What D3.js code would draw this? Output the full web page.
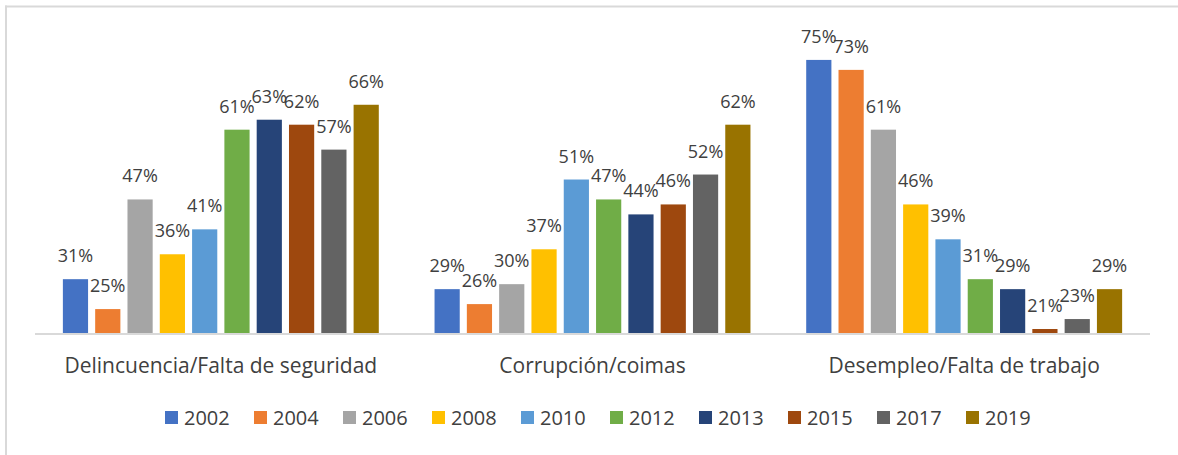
<!DOCTYPE html>
<html><head><meta charset="utf-8">
<script src="https://cdn.jsdelivr.net/npm/d3@7"></script>
<style>html,body{margin:0;padding:0;background:#fff;}svg{display:block;}</style>
</head><body>
<svg id="chart" width="1178" height="455"></svg>
<script>
const categories = ["Delincuencia/Falta de seguridad", "Corrupción/coimas", "Desempleo/Falta de trabajo"];
const years = ["2002","2004","2006","2008","2010","2012","2013","2015","2017","2019"];
const colors = ["#4472C4","#ED7D31","#A5A5A5","#FFC000","#5B9BD5","#70AD47","#264478","#9E480E","#636363","#997300"];
const v2002 = [31, 29, 75];
const v2004 = [25, 26, 73];
const v2006 = [47, 30, 61];
const v2008 = [36, 37, 46];
const v2010 = [41, 51, 39];
const v2012 = [61, 47, 31];
const v2013 = [63, 44, 29];
const v2015 = [62, 46, 21];
const v2017 = [57, 52, 23];
const v2019 = [66, 62, 29];
const seriesValues = [v2002, v2004, v2006, v2008, v2010, v2012, v2013, v2015, v2017, v2019];
const yDomain = [20, 80];

const svg = d3.select("#chart");
const font = "'Open Sans', 'Noto Sans', sans-serif";
const textColor = "#404040";

// frame
svg.append("line").attr("x1",5).attr("x2",1178).attr("y1",6.5).attr("y2",6.5).attr("stroke","#d9d9d9").attr("stroke-width",2);
svg.append("line").attr("x1",6).attr("x2",6).attr("y1",5.5).attr("y2",455).attr("stroke","#d9d9d9").attr("stroke-width",2);

const x0 = d3.scaleBand().domain(categories).range([35,1150]).paddingInner(0.15).paddingOuter(0.075);
const x1 = d3.scaleBand().domain(years).range([0, x0.bandwidth()]).paddingInner(0.22);
const y = d3.scaleLinear().domain(yDomain).range([334, 35]);
const color = d3.scaleOrdinal().domain(years).range(colors);

const data = [];
categories.forEach((c, ci) => {
  years.forEach((yr, si) => data.push({cat: c, year: yr, value: seriesValues[si][ci]}));
});

const g = svg.append("g");
g.selectAll("rect.bar").data(data).join("rect")
  .attr("class","bar")
  .attr("x", d => x0(d.cat) + x1(d.year))
  .attr("width", x1.bandwidth())
  .attr("y", d => y(d.value))
  .attr("height", d => y(yDomain[0]) - y(d.value))
  .attr("fill", d => color(d.year));

// axis
const axis = g.append("g").attr("transform","translate(0,334)").call(d3.axisBottom(x0).tickSize(0).tickPadding(0));
axis.select(".domain").attr("stroke","#d9d9d9").attr("stroke-width",2).attr("d","M35,0H1150");
axis.selectAll(".tick text").attr("y", 39).attr("dy", 0)
  .style("font-family", font).style("font-size","21px").attr("fill", textColor);

// labels
g.selectAll("text.lbl").data(data).join("text")
  .attr("class","lbl")
  .attr("x", d => x0(d.cat) + x1(d.year) + x1.bandwidth()/2)
  .attr("y", d => y(d.value) - 17)
  .attr("text-anchor","middle")
  .style("font-family", font).style("font-size","18px")
  .attr("fill", textColor)
  .text(d => d.value + "%");

// legend
const legend = svg.append("g");
const lx = d3.scaleBand().domain(years).range([165, 165 + 89*10]);
const items = legend.selectAll("g").data(years).join("g")
  .attr("transform", d => `translate(${lx(d)},0)`);
items.append("rect").attr("x",0).attr("y",411).attr("width",13).attr("height",13).attr("fill", d => color(d));
items.append("text").attr("x",19).attr("y",425)
  .style("font-family", font).style("font-size","20px").attr("fill", textColor)
  .text(d => d);
</script>
</body></html>
